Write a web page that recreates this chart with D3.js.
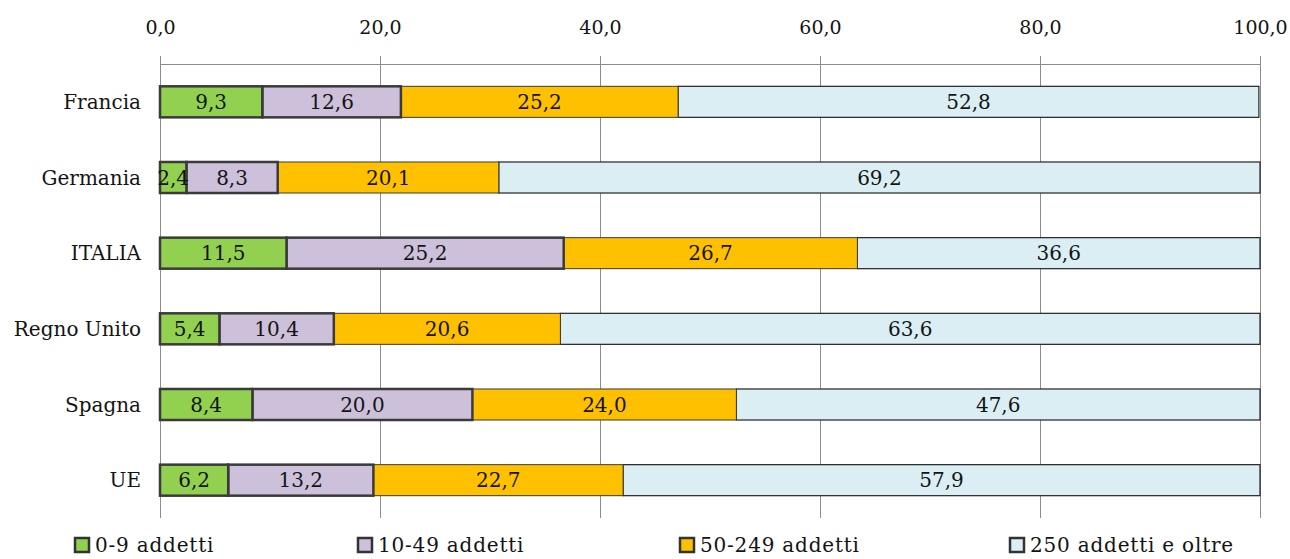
<!DOCTYPE html>
<html>
<head>
<meta charset="utf-8">
<script src="https://cdn.jsdelivr.net/npm/d3@7"></script>
<style>
  html, body { margin: 0; padding: 0; background: #fff; }
  svg { display: block; }
  text { font-family: "DejaVu Serif", "Liberation Serif", serif; fill: #141414; }
</style>
</head>
<body>
<svg id="chart" width="1290" height="559"></svg>
<script>
// Countries, top to bottom
const countries = ["Francia", "Germania", "ITALIA", "Regno Unito", "Spagna", "UE"];
// Enterprise size classes
const classes = ["0-9 addetti", "10-49 addetti", "50-249 addetti", "250 addetti e oltre"];
// Share (%) by size class, one array per class, aligned with countries
const micro  = [9.3, 2.4, 11.5, 5.4, 8.4, 6.2];
const small  = [12.6, 8.3, 25.2, 10.4, 20.0, 13.2];
const medium = [25.2, 20.1, 26.7, 20.6, 24.0, 22.7];
const large  = [52.8, 69.2, 36.6, 63.6, 47.6, 57.9];
const xTicks = [0, 20, 40, 60, 80, 100];

const colors = ["#92D050", "#CCC0DA", "#FFC000", "#DAEEF3"];
const strokes = [
  { c: "#3a3a3a", w: 2.5 },
  { c: "#3a3a3a", w: 2.5 },
  { c: "#3a3a3a", w: 1 },
  { c: "#222222", w: 1.2 }
];

const svg = d3.select("#chart");
const plotLeft = 160, plotRight = 1260, plotTop = 64, plotBottom = 518;

const x = d3.scaleLinear().domain([0, 100]).range([plotLeft, plotRight]);
const y = d3.scaleBand().domain(countries).range([plotTop, plotBottom]).paddingInner(0.59).paddingOuter(0.295);

const fmt = v => d3.format(".1f")(v).replace(".", ",");

// Vertical gridlines
svg.append("g").selectAll("line").data(xTicks).join("line")
  .attr("x1", d => Math.round(x(d)) + 0.5).attr("x2", d => Math.round(x(d)) + 0.5)
  .attr("y1", plotTop - 8).attr("y2", plotBottom)
  .attr("stroke", "#8c8c8c").attr("stroke-width", 1);

// Top axis
const axis = d3.axisTop(x).tickValues(xTicks).tickFormat(fmt).tickSize(0).tickPadding(0);
const ag = svg.append("g").attr("transform", `translate(0,${plotTop})`).call(axis);
ag.select(".domain").attr("stroke", "#8c8c8c").attr("d", `M${plotLeft},0.5H${plotRight}`);
ag.selectAll("text").attr("font-family", "DejaVu Serif").attr("font-size", 19)
  .attr("fill", "#141414").attr("y", -30);

// Category labels
svg.append("g").selectAll("text").data(countries).join("text")
  .attr("x", 141).attr("y", d => y(d) + y.bandwidth() / 2)
  .attr("dy", "0.35em").attr("text-anchor", "end").attr("font-size", 20)
  .text(d => d);

// Stacked segments
const series = [micro, small, medium, large];
const rows = countries.map((c, i) => {
  let acc = 0;
  return series.map((s, k) => {
    const seg = { country: c, k, x0: acc, x1: acc + s[i], v: s[i] };
    acc += s[i];
    return seg;
  });
});

// thin-bordered segments first, heavy-bordered ones after so their outlines sit on top
const segs = rows.flat();
const order = [3, 2, 1, 0];
const bars = svg.append("g");
order.forEach(k => {
  bars.selectAll(null).data(segs.filter(s => s.k === k)).join("rect")
    .attr("x", d => x(d.x0)).attr("width", d => x(d.x1) - x(d.x0))
    .attr("y", d => y(d.country)).attr("height", y.bandwidth())
    .attr("fill", colors[k]).attr("stroke", strokes[k].c).attr("stroke-width", strokes[k].w);
});

// Value labels
svg.append("g").selectAll("text").data(segs).join("text")
  .attr("x", d => (x(d.x0) + x(d.x1)) / 2)
  .attr("y", d => y(d.country) + y.bandwidth() / 2)
  .attr("dy", "0.36em").attr("text-anchor", "middle").attr("font-size", 20)
  .text(d => fmt(d.v));

// Legend
const legX = [74, 357, 679, 1009];
const lg = svg.append("g").selectAll("g").data(classes).join("g")
  .attr("transform", (d, i) => `translate(${legX[i]},537)`);
lg.append("rect").attr("x", 1).attr("y", 1).attr("width", 14).attr("height", 14)
  .attr("fill", (d, i) => colors[i]).attr("stroke", "#333").attr("stroke-width", 2.5);
lg.append("text").attr("x", 21).attr("y", 15).attr("font-size", 20)
  .attr("letter-spacing", 0.8).text(d => d);
</script>
</body>
</html>
